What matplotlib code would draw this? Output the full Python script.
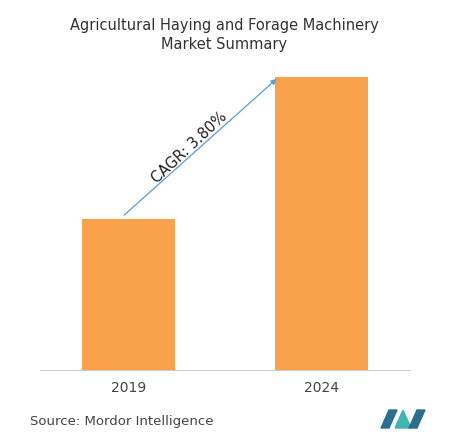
import matplotlib
matplotlib.use("Agg")
import matplotlib.pyplot as plt
from matplotlib.patches import Polygon

years = ["2019", "2024"]
values = [151, 293]
cagr_label = "CAGR: 3.80%"

fig = plt.figure(figsize=(4.49, 4.43), dpi=100)
ax = fig.add_axes([40/449, 73/443, 370/449, 310/443])
x = [0, 1]
ax.bar(x, values, width=0.483, color="#F9A24B")
ax.set_xlim(-0.46, 1.462)
ax.set_ylim(0, 310)
for s in ["top", "right", "left"]:
    ax.spines[s].set_visible(False)
ax.spines["bottom"].set_color("#cccccc")
ax.set_yticks([])
ax.set_xticks(x)
ax.set_xticklabels(years, fontsize=10, color="#444444")
ax.tick_params(axis="x", length=0, pad=8)

ax.annotate("", xy=(0.78, 293), xytext=(-0.034, 153),
            arrowprops=dict(arrowstyle="-|>", color="#5B9BD5", lw=0.9, mutation_scale=8))
ax.text(0.315, 222, cagr_label, rotation=43, ha="center", va="center",
        fontsize=10.5, color="#222222")

fig.text(0.5, 1-35/443, "Agricultural Haying and Forage Machinery\nMarket Summary",
         ha="center", va="center", fontsize=10.5, color="#333333", linespacing=1.4)
fig.text(30/449, 1-422/443, "Source: Mordor Intelligence", ha="left", va="center",
         fontsize=9.5, color="#444444")

def P(pts, c):
    fig.patches.append(Polygon([(px/449, 1-py/443) for px, py in pts], closed=True,
                               transform=fig.transFigure, color=c))
P([(381, 428), (389, 410), (397, 410), (389, 428)], "#2C6E8E")
P([(395, 428), (403, 410), (411, 428)], "#3FB6B2")
P([(409, 428), (417, 410), (425, 410), (417, 428)], "#2C6E8E")

fig.savefig("out.png", dpi=100, facecolor="white")
